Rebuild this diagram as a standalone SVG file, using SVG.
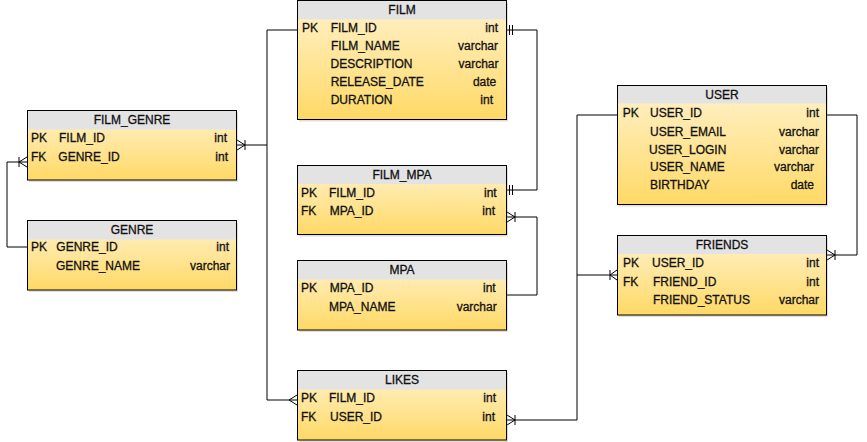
<svg xmlns="http://www.w3.org/2000/svg" width="867" height="442" viewBox="0 0 867 442">
<style>
text{font-family:"Liberation Sans",Arial,sans-serif;font-size:12px;fill:#111;stroke:#111;stroke-width:0.3}
.t{text-anchor:middle}
.r{text-anchor:end}
.box{fill:url(#g);stroke:#000;stroke-width:1}
.hd{fill:#e3e3e3}
.sh{fill:#8a7a50;opacity:.25}
.c{fill:none;stroke:#000;stroke-width:1}
</style>
<defs>
<linearGradient id="g" x1="0" y1="0" x2="0" y2="1">
<stop offset="0" stop-color="#fff2cc"/>
<stop offset="1" stop-color="#ffd966"/>
</linearGradient>
</defs>
<g id="connectors">
<path class="c" d="M297,30 H267 V400 H297"/>
<path class="c" d="M267,145 H237"/>
<path class="c" d="M245,140 V150 M237,140 L245,145 L237,150"/>
<path class="c" d="M297,395 L289,400 L297,405"/>
<path class="c" d="M27,162 H7 V247 H27"/>
<path class="c" d="M19,157 V167 M27,157 L19,162 L27,167"/>
<path class="c" d="M507,30 H537 V190 H507"/>
<path class="c" d="M509.5,25 V35 M512.5,25 V35 M509.5,185 V195 M512.5,185 V195"/>
<path class="c" d="M507,217 H537 V295 H507"/>
<path class="c" d="M515,212 V222 M507,212 L515,217 L507,222"/>
<path class="c" d="M617,115 H577 V420 H507"/>
<path class="c" d="M577,275 H617"/>
<path class="c" d="M610,270 V280 M617,270 L610,275 L617,280"/>
<path class="c" d="M515,415 V425 M507,415 L515,420 L507,425"/>
<path class="c" d="M827,115 H857 V255 H827"/>
<path class="c" d="M835,250 V260 M827,250 L835,255 L827,260"/>
</g>
<g id="FILM">
<rect class="sh" x="299" y="2.5" width="209" height="119"/>
<rect class="box" x="297.5" y="0.5" width="209" height="119"/>
<rect class="hd" x="298" y="1" width="208" height="18.5"/>
<text class="t" x="402" y="14">FILM</text>
<text x="302" y="32.3">PK</text><text x="330.7" y="32.3">FILM_ID</text><text class="r" x="498" y="32.3">int</text>
<text x="331" y="50.3">FILM_NAME</text><text class="r" x="498" y="50.3">varchar</text>
<text x="330.5" y="68.3">DESCRIPTION</text><text class="r" x="498.5" y="68.3">varchar</text>
<text x="330.7" y="86">RELEASE_DATE</text><text class="r" x="496.3" y="86">date</text>
<text x="330.7" y="104">DURATION</text><text class="r" x="493" y="104">int</text>
</g>
<g id="FILM_GENRE">
<rect class="sh" x="29" y="112.5" width="209" height="69.5"/>
<rect class="box" x="27.5" y="110.5" width="209" height="69.5"/>
<rect class="hd" x="28" y="111" width="208" height="18.5"/>
<text class="t" x="132" y="124.3">FILM_GENRE</text>
<text x="31" y="142">PK</text><text x="59" y="142">FILM_ID</text><text class="r" x="227" y="142">int</text>
<text x="31" y="161">FK</text><text x="58.3" y="161">GENRE_ID</text><text class="r" x="228" y="161">int</text>
</g>
<g id="GENRE">
<rect class="sh" x="29" y="222.5" width="209" height="69.5"/>
<rect class="box" x="27.5" y="220.5" width="209" height="69.5"/>
<rect class="hd" x="28" y="221" width="208" height="18.5"/>
<text class="t" x="132" y="233.6">GENRE</text>
<text x="31" y="251.3">PK</text><text x="56.3" y="251.3">GENRE_ID</text><text class="r" x="229" y="251.3">int</text>
<text x="56" y="270.3">GENRE_NAME</text><text class="r" x="230" y="270.3">varchar</text>
</g>
<g id="FILM_MPA">
<rect class="sh" x="299" y="167.5" width="209" height="69"/>
<rect class="box" x="297.5" y="165.5" width="209" height="69"/>
<rect class="hd" x="298" y="166" width="208" height="18"/>
<text class="t" x="402" y="178.5">FILM_MPA</text>
<text x="301" y="197">PK</text><text x="329" y="197">FILM_ID</text><text class="r" x="496.7" y="197">int</text>
<text x="301" y="215.3">FK</text><text x="329.7" y="215.3">MPA_ID</text><text class="r" x="495" y="215.3">int</text>
</g>
<g id="MPA">
<rect class="sh" x="299" y="262.5" width="209" height="69.5"/>
<rect class="box" x="297.5" y="260.5" width="209" height="69.5"/>
<rect class="hd" x="298" y="261" width="208" height="18.5"/>
<text class="t" x="402" y="274.3">MPA</text>
<text x="301" y="292">PK</text><text x="329.7" y="292">MPA_ID</text><text class="r" x="495.7" y="292">int</text>
<text x="329" y="311">MPA_NAME</text><text class="r" x="496.7" y="311">varchar</text>
</g>
<g id="LIKES">
<rect class="sh" x="299" y="372.5" width="209" height="69.5"/>
<rect class="box" x="297.5" y="370.5" width="209" height="69.5"/>
<rect class="hd" x="298" y="371" width="208" height="18.5"/>
<text class="t" x="402" y="384.3">LIKES</text>
<text x="301" y="401.6">PK</text><text x="329" y="401.6">FILM_ID</text><text class="r" x="496" y="401.6">int</text>
<text x="301" y="421">FK</text><text x="330" y="421">USER_ID</text><text class="r" x="495" y="421">int</text>
</g>
<g id="USER">
<rect class="sh" x="619" y="87.5" width="209" height="119"/>
<rect class="box" x="617.5" y="85.5" width="209" height="119"/>
<rect class="hd" x="618" y="86" width="208" height="17.5"/>
<text class="t" x="722" y="98.6">USER</text>
<text x="622.7" y="117">PK</text><text x="650" y="117">USER_ID</text><text class="r" x="819" y="117">int</text>
<text x="650" y="135.6">USER_EMAIL</text><text class="r" x="819" y="135.6">varchar</text>
<text x="649" y="154">USER_LOGIN</text><text class="r" x="819" y="154">varchar</text>
<text x="650" y="171">USER_NAME</text><text class="r" x="814" y="171">varchar</text>
<text x="650" y="189">BIRTHDAY</text><text class="r" x="814" y="189">date</text>
</g>
<g id="FRIENDS">
<rect class="sh" x="619" y="237.5" width="209" height="79.5"/>
<rect class="box" x="617.5" y="235.5" width="209" height="79.5"/>
<rect class="hd" x="618" y="236" width="208" height="18"/>
<text class="t" x="722" y="248.6">FRIENDS</text>
<text x="623" y="267">PK</text><text x="652" y="267">USER_ID</text><text class="r" x="819" y="267">int</text>
<text x="623" y="286">FK</text><text x="653" y="286">FRIEND_ID</text><text class="r" x="819" y="286">int</text>
<text x="653" y="304.3">FRIEND_STATUS</text><text class="r" x="819" y="304.3">varchar</text>
</g>
</svg>
